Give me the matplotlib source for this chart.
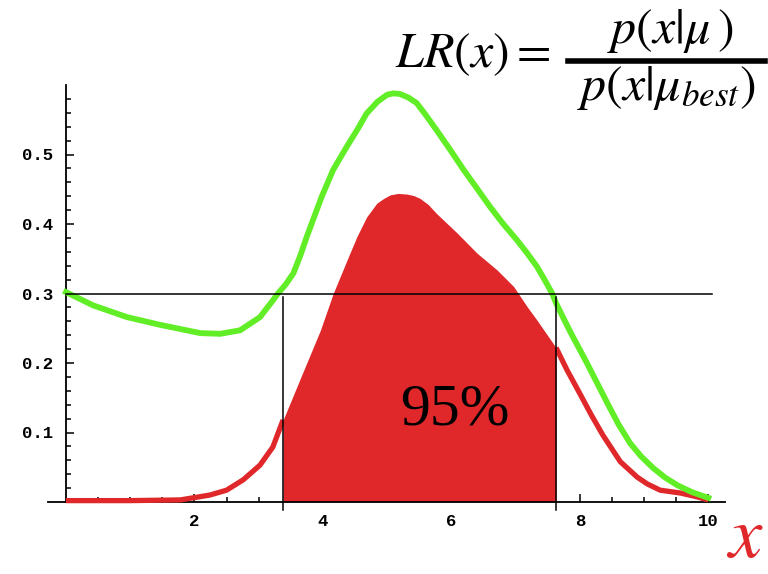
import numpy as np
import matplotlib
matplotlib.use("Agg")
import matplotlib.pyplot as plt
from matplotlib.lines import Line2D

plt.rcParams["mathtext.fontset"] = "stix"

# --- data ----------------------------------------------------------------
# likelihood ratio LR(x) (green)
lr_x = [0.0, 0.42, 0.95, 1.46, 2.09, 2.4, 2.71, 3.02, 3.22, 3.3, 3.42, 3.54,
        3.65, 3.75, 3.98, 4.16, 4.37, 4.55, 4.68, 4.85, 5.0, 5.1, 5.2, 5.33,
        5.46, 5.6, 5.77, 5.98, 6.19, 6.4, 6.6, 6.8, 7.02, 7.18, 7.33, 7.45,
        7.57, 7.63, 7.85, 8.11, 8.43, 8.6, 8.78, 8.95, 9.14, 9.33, 9.52,
        9.75, 10.0]
lr_y = [0.302, 0.283, 0.266, 0.255, 0.243, 0.242, 0.247, 0.266, 0.29, 0.30,
        0.313, 0.329, 0.355, 0.382, 0.439, 0.478, 0.511, 0.538, 0.559, 0.576,
        0.586, 0.588, 0.587, 0.582, 0.574, 0.557, 0.535, 0.507, 0.478, 0.451,
        0.425, 0.401, 0.377, 0.358, 0.339, 0.32, 0.30, 0.286, 0.245, 0.20,
        0.142, 0.112, 0.085, 0.066, 0.049, 0.035, 0.024, 0.014, 0.006]

# p(x|mu) (red)
px_x = [0.0, 1.0, 1.78, 2.24, 2.5, 2.76, 3.02, 3.22, 3.38, 3.64, 3.96, 4.16,
        4.42, 4.53, 4.68, 4.84, 4.95, 5.05, 5.17, 5.31, 5.41, 5.51, 5.64,
        5.77, 6.09, 6.4, 6.71, 6.97, 7.18, 7.33, 7.63, 7.8, 8.0, 8.18, 8.36,
        8.63, 8.89, 9.05, 9.25, 9.56, 9.8, 10.0]
px_y = [0.002, 0.002, 0.003, 0.01, 0.017, 0.032, 0.053, 0.079, 0.118, 0.176,
        0.247, 0.30, 0.358, 0.382, 0.41, 0.43, 0.437, 0.442, 0.444, 0.443,
        0.441, 0.437, 0.428, 0.415, 0.387, 0.358, 0.334, 0.31, 0.281, 0.262,
        0.222, 0.19, 0.156, 0.125, 0.096, 0.058, 0.036, 0.026, 0.017, 0.013,
        0.008, 0.003]

threshold = 0.30
x_lo, x_hi = 3.38, 7.63
coverage = "95%"

GREEN = "#62ee26"
RED = "#e0282a"

# --- figure ---------------------------------------------------------------
W, H = 768, 574
fig = plt.figure(figsize=(W / 100, H / 100), dpi=100)
ax = fig.add_axes([48 / W, 72 / H, (725 - 48) / W, (502 - 85) / H])
ax.set_xlim(-0.28, 10.26)
ax.set_ylim(0, 0.6)

px_x = np.array(px_x); px_y = np.array(px_y)
inside = (px_x >= x_lo) & (px_x <= x_hi)
ax.fill_between(px_x, 0, px_y, where=inside, color=RED, lw=0, zorder=2)
left = px_x <= x_lo
right = px_x >= x_hi
ax.plot(px_x[left], px_y[left], color=RED, lw=3.8, zorder=3,
        solid_capstyle="butt", solid_joinstyle="round", clip_on=False)
ax.plot(px_x[right], px_y[right], color=RED, lw=3.8, zorder=3,
        solid_capstyle="butt", solid_joinstyle="round", clip_on=False)
ax.plot(lr_x, lr_y, color=GREEN, lw=4.2, zorder=3, clip_on=False,
        solid_joinstyle="round")

# threshold + interval lines
ax.plot([0, 10.05], [threshold, threshold], color="black", lw=1.1, zorder=4)
for xv in (x_lo, x_hi):
    ax.plot([xv, xv], [-0.012, 0.295], color="black", lw=1.1, zorder=4,
            clip_on=False)

ax.text(6.06, 0.132, coverage, family="Liberation Serif", fontsize=43,
        ha="center", va="center", zorder=5)

# --- axes in Mathematica style -------------------------------------------
for s in ("top", "right"):
    ax.spines[s].set_visible(False)
ax.spines["left"].set_position(("data", 0))
ax.spines["left"].set_bounds(0, 0.6)
for s in ("left", "bottom"):
    ax.spines[s].set_linewidth(1.3)

ax.set_xticks([2, 4, 6, 8, 10])
ax.set_xticks(np.arange(0.5, 10.01, 0.5), minor=True)
ax.set_yticks([0.1, 0.2, 0.3, 0.4, 0.5])
ax.set_yticks(np.arange(0.02, 0.59, 0.02), minor=True)
ax.set_yticklabels(["0.1", "0.2", "0.3", "0.4", "0.5"])
ax.tick_params(which="both", direction="in", width=1.1)
ax.tick_params(which="major", length=6, pad=9)
ax.tick_params(which="minor", length=3.5)
for lab in ax.get_xticklabels() + ax.get_yticklabels():
    lab.set_family("Liberation Mono")
    lab.set_fontweight("bold")
    lab.set_fontsize(12.5)

# --- formula and axis label ----------------------------------------------
fig.text(395 / W, 1 - 67 / H, r"$LR(x) =$", fontsize=36, ha="left",
         va="baseline")
fig.text(670 / W, 1 - 43 / H, r"$p(x|\mu\,)$", fontsize=36, ha="center",
         va="baseline")
fig.text(666 / W, 1 - 100 / H, r"$p(x|\mu_{best})$", fontsize=36,
         ha="center", va="baseline")
fig.add_artist(Line2D([568 / W, 765 / W], [1 - 61 / H, 1 - 61 / H],
                      transform=fig.transFigure, color="black", lw=4))
fig.text(745 / W, 1 - 573.5 / H, r"$x$", fontsize=54, color=RED,
         ha="center", va="bottom")

fig.savefig("out.png", dpi=100)
